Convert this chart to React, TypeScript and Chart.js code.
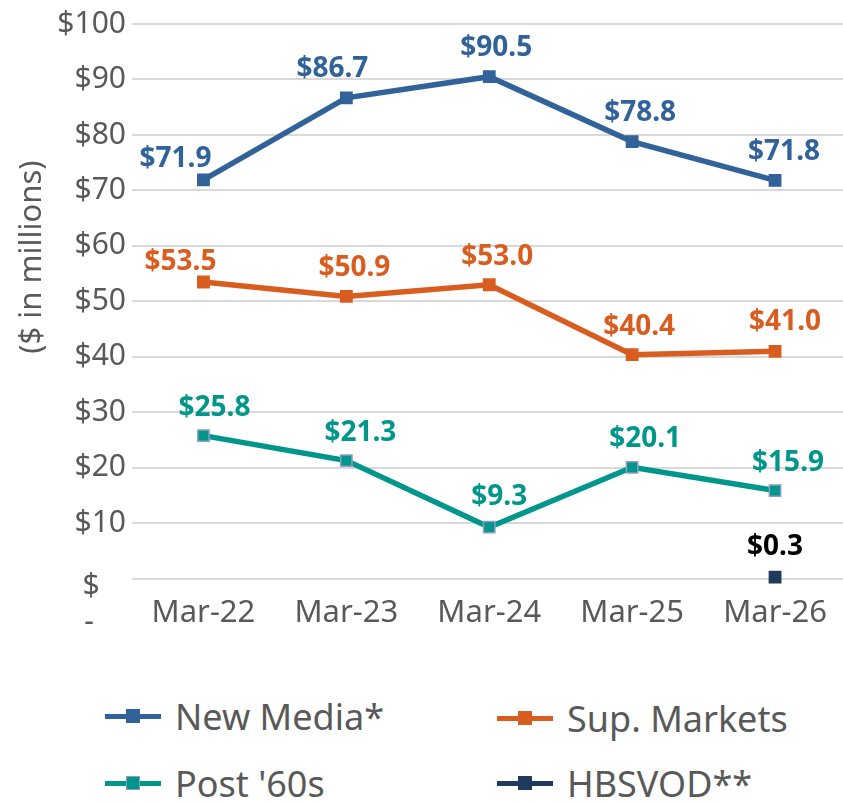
import React, { useEffect, useRef } from "react";
import { Chart, registerables } from "chart.js";

Chart.register(...registerables);

const categories = ["Mar-22", "Mar-23", "Mar-24", "Mar-25", "Mar-26"];
const newMedia = [71.9, 86.7, 90.5, 78.8, 71.8];
const supMarkets = [53.5, 50.9, 53.0, 40.4, 41.0];
const post60s = [25.8, 21.3, 9.3, 20.1, 15.9];
const hbsvod = [null, null, null, null, 0.3];
const seriesNames = ["New Media*", "Sup. Markets", "Post '60s", "HBSVOD**"];
const yTickValues = [0, 10, 20, 30, 40, 50, 60, 70, 80, 90, 100];

const lineColors = ["#31639A", "#D95D1F", "#00968C", "#1F3A5C"];
const markerBorders = ["#31639A", "#D95D1F", "#8E9CC6", "#1F3A5C"];
const labelColors = ["#31639A", "#D95D1F", "#00968C", "#000000"];
// label offsets (styling only)
const labelDX = [
  [-28, -14, 7, 8, 9],
  [-23, 8, 8, 7, 10],
  [11, 14, 10, 13, 13],
  [0, 0, 0, 0, 0],
];
const labelDY = [
  [-21, -29, -29, -29, -28],
  [-20, -28, -28, -28, -29],
  [-28, -28, -30, -28, -28],
  [-30, -30, -30, -30, -30],
];

const FONT = "'Noto Sans', sans-serif";
const TEXT_GRAY = "#595959";

const dataLabelPlugin = {
  id: "dataLabels",
  afterDatasetsDraw(chart: any) {
    const ctx = chart.ctx;
    ctx.save();
    ctx.font = `bold 28px ${FONT}`;
    ctx.textAlign = "center";
    ctx.textBaseline = "middle";
    chart.data.datasets.forEach((ds: any, i: number) => {
      const meta = chart.getDatasetMeta(i);
      meta.data.forEach((pt: any, j: number) => {
        const v = ds.data[j];
        if (v === null || v === undefined) return;
        ctx.fillStyle = labelColors[i];
        ctx.fillText("$" + v.toFixed(1), pt.x + labelDX[i][j], pt.y + labelDY[i][j]);
      });
    });
    ctx.restore();
  },
};

const zeroTickPlugin = {
  id: "zeroTick",
  afterDraw(chart: any) {
    const ctx = chart.ctx;
    const y = chart.scales.y.getPixelForValue(0);
    ctx.save();
    ctx.font = `30px ${FONT}`;
    ctx.fillStyle = TEXT_GRAY;
    ctx.textAlign = "center";
    ctx.textBaseline = "middle";
    ctx.fillText("$", 91, y + 8);
    ctx.fillText("-", 89, y + 44);
    ctx.restore();
  },
};

function App() {
  const ref = useRef<HTMLCanvasElement | null>(null);
  useEffect(() => {
    if (!ref.current) return;
    const mk = (i: number, data: any[]) => ({
      label: seriesNames[i],
      data,
      borderColor: lineColors[i],
      backgroundColor: lineColors[i],
      pointBackgroundColor: lineColors[i],
      pointBorderColor: markerBorders[i],
      pointBorderWidth: 1.5,
      borderWidth: 5.5,
      pointStyle: "rect",
      pointRadius: 8,
      tension: 0,
      spanGaps: false,
      clip: false,
    });
    const chart = new Chart(ref.current, {
      type: "line",
      data: {
        labels: categories,
        datasets: [mk(0, newMedia), mk(1, supMarkets), mk(2, post60s), mk(3, hbsvod)],
      },
      options: {
        animation: false,
        responsive: false,
        maintainAspectRatio: false,
        layout: { padding: { top: 20, right: 0, bottom: 10, left: 0 } },
        plugins: { legend: { display: false }, tooltip: { enabled: false } },
        scales: {
          x: {
            offset: true,
            grid: { display: false },
            border: { display: false },
            ticks: {
              color: TEXT_GRAY,
              font: { family: FONT, size: 31 },
              padding: 8,
              maxRotation: 0,
            },
          },
          y: {
            min: 0,
            max: 100,
            afterFit: (s: any) => {
              s.width = 132;
            },
            afterBuildTicks: (s: any) => {
              s.ticks = yTickValues.map((v) => ({ value: v }));
            },
            grid: { color: "#D9D9D9", lineWidth: 2, drawTicks: false },
            border: { display: false },
            ticks: {
              color: TEXT_GRAY,
              font: { family: FONT, size: 30 },
              padding: 6,
              callback: (v: any) => (v === 0 ? "" : "$" + v),
            },
            title: {
              display: true,
              text: "           ($ in millions)",
              color: TEXT_GRAY,
              font: { family: FONT, size: 31 },
              padding: { top: 14, bottom: 0 },
            },
          },
        },
      },
      plugins: [dataLabelPlugin, zeroTickPlugin],
    });
    return () => chart.destroy();
  }, []);

  const legendItem = (i: number, left: number, top: number) => (
    <div
      key={i}
      style={{
        position: "absolute",
        left,
        top: top - 25,
        height: 50,
        display: "flex",
        alignItems: "center",
        fontFamily: FONT,
        fontSize: 36,
        color: TEXT_GRAY,
        whiteSpace: "nowrap",
      }}
    >
      <div style={{ position: "relative", width: 56, height: 14, marginRight: 14 }}>
        <div
          style={{
            position: "absolute",
            left: 0,
            top: 4.5,
            width: 56,
            height: 5,
            background: lineColors[i],
          }}
        />
        <div
          style={{
            position: "absolute",
            left: 21,
            top: 0,
            width: 14,
            height: 14,
            boxSizing: "border-box",
            background: lineColors[i],
            border: `1.5px solid ${markerBorders[i]}`,
          }}
        />
      </div>
      <span>{seriesNames[i]}</span>
    </div>
  );

  return (
    <div
      style={{
        position: "fixed",
        left: 0,
        top: 0,
        width: 843,
        height: 803,
        background: "#fff",
        overflow: "hidden",
      }}
    >
      <canvas ref={ref} width={856} height={650} style={{ position: "absolute", left: 0, top: 0 }} />
      {legendItem(0, 105, 716)}
      {legendItem(1, 497, 718)}
      {legendItem(2, 105, 783)}
      {legendItem(3, 497, 783)}
    </div>
  );
}

export default App;
